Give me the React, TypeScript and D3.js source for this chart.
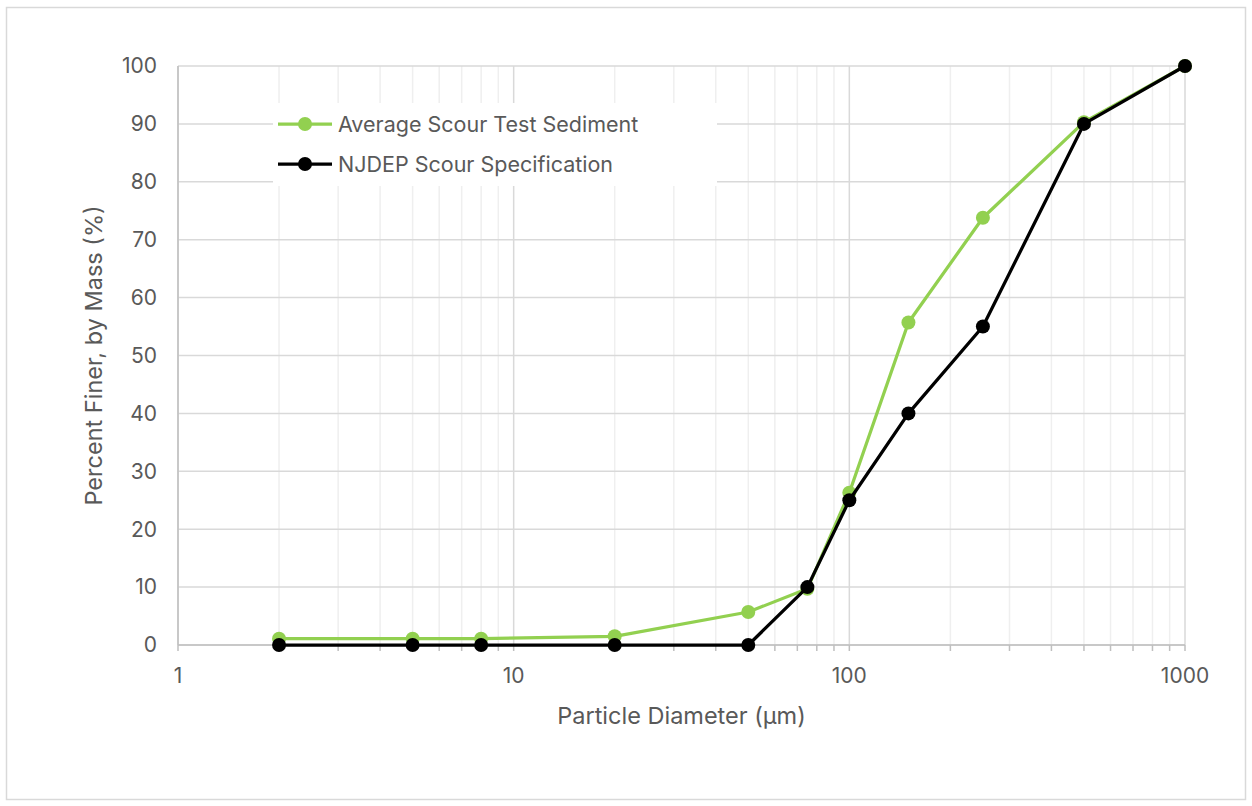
import React from 'react';
import * as d3 from 'd3';

const diameters = [2, 5, 8, 20, 50, 75, 100, 150, 250, 500, 1000];
const averageSediment = [1.1, 1.1, 1.1, 1.5, 5.7, 9.7, 26.3, 55.7, 73.8, 90.3, 100];
const njdepSpec = [0, 0, 0, 0, 0, 10, 25, 40, 55, 90, 100];
const yTicks = [0, 10, 20, 30, 40, 50, 60, 70, 80, 90, 100];
const xMajorTicks = [1, 10, 100, 1000];

const series = [
  { name: 'Average Scour Test Sediment', values: averageSediment, color: '#92d050' },
  { name: 'NJDEP Scour Specification', values: njdepSpec, color: '#000000' }
];

const W = 1252;
const H = 806;
const margin = { left: 178, right: 67, top: 66, bottom: 161 };
const font = 'Inter, "Open Sans", sans-serif';

export default function App() {
  const x = d3.scaleLog().domain([1, 1000]).range([margin.left, W - margin.right]);
  const y = d3.scaleLinear().domain([0, 100]).range([H - margin.bottom, margin.top]);

  const minorTicks: number[] = [];
  for (let dec = 1; dec < 1000; dec *= 10) {
    for (let k = 2; k <= 9; k++) minorTicks.push(dec * k);
  }

  const line = d3
    .line<number>()
    .x((d, i) => x(diameters[i]))
    .y(d => y(d));

  const [x0, x1] = x.range();
  const [y0, y1] = y.range();

  return (
    <svg width={W} height={H} style={{ position: 'absolute', left: 0, top: 0 }}>
      <rect x={0} y={0} width={W} height={H} fill="#fff" />
      <rect x={6.5} y={7.5} width={W - 13} height={H - 14} fill="#fff" stroke="#d9d9d9" strokeWidth={1.5} />

      {/* minor gridlines */}
      {minorTicks.map(t => (
        <line key={'m' + t} x1={x(t)} x2={x(t)} y1={y1} y2={y0} stroke="#efefef" strokeWidth={1.5} />
      ))}
      {/* major horizontal gridlines */}
      {yTicks.map(t => (
        <line key={'h' + t} x1={x0} x2={x1} y1={y(t)} y2={y(t)} stroke="#d9d9d9" strokeWidth={1.5} />
      ))}
      {/* major vertical gridlines */}
      {xMajorTicks.map(t => (
        <line key={'v' + t} x1={x(t)} x2={x(t)} y1={y1} y2={y0} stroke="#d9d9d9" strokeWidth={1.5} />
      ))}

      {/* axes */}
      <line x1={x0} x2={x0} y1={y1} y2={y0} stroke="#bfbfbf" strokeWidth={1.5} />
      <line x1={x0} x2={x1} y1={y0} y2={y0} stroke="#bfbfbf" strokeWidth={1.5} />
      {[...xMajorTicks, ...minorTicks].map(t => (
        <line key={'t' + t} x1={x(t)} x2={x(t)} y1={y0} y2={y0 + 6} stroke="#bfbfbf" strokeWidth={1.5} />
      ))}

      {yTicks.map(t => (
        <text key={'yl' + t} x={157} y={y(t)} dy="0.35em" textAnchor="end" fontFamily={font} fontSize={21} fill="#595959">
          {t}
        </text>
      ))}
      {xMajorTicks.map(t => (
        <text key={'xl' + t} x={x(t)} y={676} dy="0.35em" textAnchor="middle" fontFamily={font} fontSize={21} fill="#595959">
          {t}
        </text>
      ))}

      <text x={(x0 + x1) / 2} y={716} dy="0.35em" textAnchor="middle" fontFamily={font} fontSize={23.5} fill="#595959">
        Particle Diameter (µm)
      </text>
      <text
        transform={`translate(94, ${(y0 + y1) / 2}) rotate(-90)`}
        dy="0.35em"
        textAnchor="middle"
        fontFamily={font}
        fontSize={23.5}
        fill="#595959"
      >
        Percent Finer, by Mass (%)
      </text>

      {/* series */}
      {series.map(s => (
        <g key={s.name}>
          <path d={line(s.values) || ''} fill="none" stroke={s.color} strokeWidth={3.25} strokeLinejoin="round" />
          {s.values.map((v, i) => (
            <circle key={i} cx={x(diameters[i])} cy={y(v)} r={7} fill={s.color} />
          ))}
        </g>
      ))}

      {/* legend */}
      <rect x={273} y={103} width={444} height={83} fill="#fff" />
      {series.map((s, i) => {
        const ly = 124 + i * 40;
        return (
          <g key={'lg' + s.name}>
            <line x1={278} x2={332} y1={ly} y2={ly} stroke={s.color} strokeWidth={3.25} />
            <circle cx={305} cy={ly} r={7} fill={s.color} />
            <text x={338} y={ly} dy="0.35em" fontFamily={font} fontSize={21.5} fill="#595959">
              {s.name}
            </text>
          </g>
        );
      })}
    </svg>
  );
}
